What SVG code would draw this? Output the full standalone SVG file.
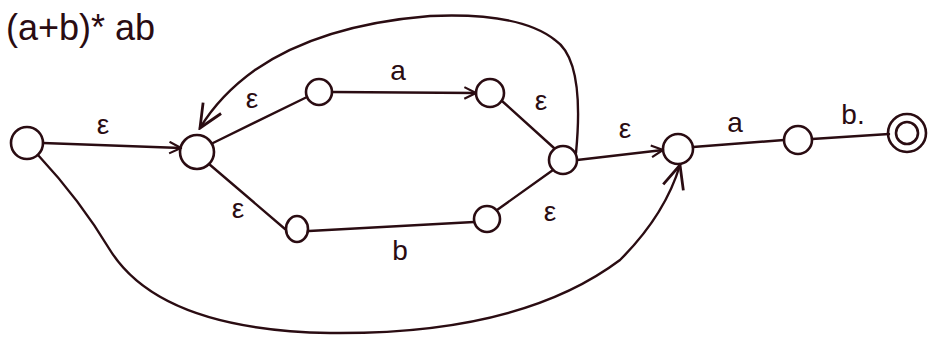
<svg xmlns="http://www.w3.org/2000/svg" width="931" height="340" viewBox="0 0 931 340">
<style>
.n{fill:none;stroke:#2a0c12;stroke-width:2.6}
.e{fill:none;stroke:#2a0c12;stroke-width:2.4;stroke-linecap:round}
.t{font-family:"Liberation Sans",Arial,sans-serif;fill:#2a0c12;font-size:28px;text-anchor:middle}
</style>
<defs>
<marker id="arr" viewBox="0 0 12 12" refX="11" refY="6" markerWidth="14" markerHeight="14" markerUnits="userSpaceOnUse" orient="auto">
<path d="M1,1 L11,6 L1,11" fill="none" stroke="#2a0c12" stroke-width="1.8"/>
</marker>
<marker id="big" viewBox="0 0 24 24" refX="22" refY="12" markerWidth="28" markerHeight="28" markerUnits="userSpaceOnUse" orient="auto">
<path d="M2,3 L22,12 L2,21" fill="none" stroke="#2a0c12" stroke-width="2.4"/>
</marker>
</defs>
<rect width="931" height="340" fill="#ffffff"/>
<text class="t" x="6" y="40" style="text-anchor:start;font-size:36px">(a+b)* ab</text>
<g id="connectors">
<path class="e" d="M43,143 L181,148" marker-end="url(#arr)"/>
<path class="e" d="M213,143 L307,97"/>
<path class="e" d="M332,92 L476,93" marker-end="url(#arr)"/>
<path class="e" d="M502,101 L554,148"/>
<path class="e" d="M209,164 L285,229"/>
<path class="e" d="M309,231 L474,222"/>
<path class="e" d="M497,210 L553,170"/>
<path class="e" d="M576,153 Q585,60 555,40 Q520,12 430,16 Q320,25 255,70 Q220,95 200,128" marker-end="url(#big)"/>
<path class="e" d="M577,160 L663,150" marker-end="url(#arr)"/>
<path class="e" d="M693,147 L784,140"/>
<path class="e" d="M812,139 L889,134"/>
<path class="e" d="M38,155 Q80,200 110,250 Q160,330 330,333 Q520,335 620,260 Q665,215 680,165" marker-end="url(#big)"/>
</g>
<g id="labels">
<text class="t" x="103" y="134">ε</text>
<text class="t" x="252" y="108">ε</text>
<text class="t" x="398" y="80">a</text>
<text class="t" x="541" y="110">ε</text>
<text class="t" x="238" y="218">ε</text>
<text class="t" x="400" y="260">b</text>
<text class="t" x="550" y="221">ε</text>
<text class="t" x="625" y="138">ε</text>
<text class="t" x="735" y="132">a</text>
<text class="t" x="853" y="124">b.</text>
</g>
<g id="n0"><circle class="n" cx="27" cy="143" r="16"/></g>
<g id="n1"><circle class="n" cx="197" cy="152" r="17"/></g>
<g id="n2"><circle class="n" cx="319" cy="92" r="13"/></g>
<g id="n3"><circle class="n" cx="490" cy="93" r="14"/></g>
<g id="n4"><ellipse class="n" cx="297" cy="229" rx="11" ry="13"/></g>
<g id="n5"><circle class="n" cx="487" cy="219" r="13"/></g>
<g id="n6"><circle class="n" cx="563" cy="160" r="14"/></g>
<g id="n7"><circle class="n" cx="678" cy="149" r="15"/></g>
<g id="n8"><circle class="n" cx="798" cy="140" r="14"/></g>
<g id="n9"><circle class="n" cx="907" cy="133" r="19"/><circle class="n" cx="907" cy="133" r="11"/></g>
</svg>
